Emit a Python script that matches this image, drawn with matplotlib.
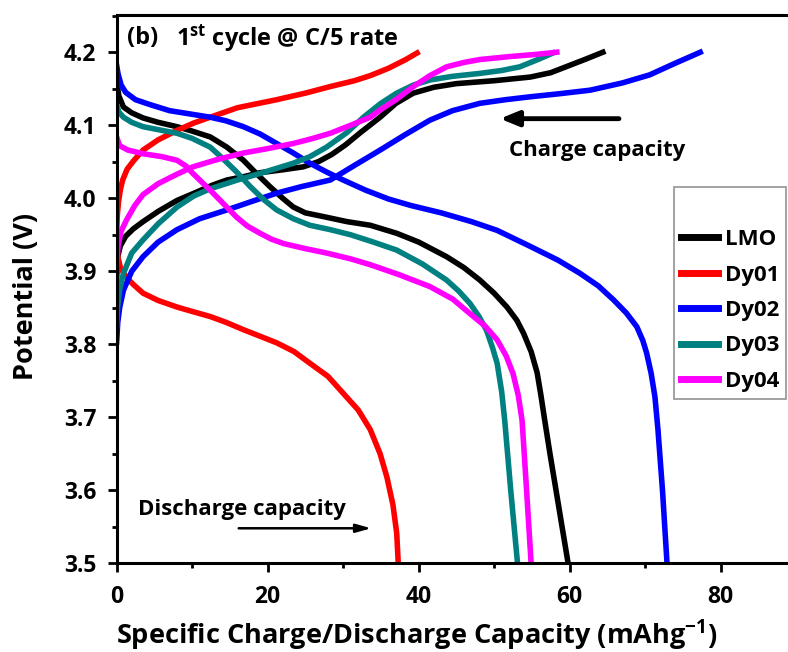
import matplotlib.pyplot as plt
from matplotlib.ticker import MultipleLocator

plt.rcParams['font.family'] = ['Open Sans', 'DejaVu Sans']
plt.rcParams['font.weight'] = 'bold'
plt.rcParams['mathtext.fontset'] = 'custom'
plt.rcParams['mathtext.rm'] = 'Open Sans:bold'
plt.rcParams['mathtext.it'] = 'Open Sans:bold'
plt.rcParams['mathtext.bf'] = 'Open Sans:bold'

labels = ['LMO', 'Dy01', 'Dy02', 'Dy03', 'Dy04']
colors = ['black', '#ff0000', '#0000ff', '#008080', '#ff00ff']

# charge branches (capacity in mAh/g, potential in V)
lmo_chg_x = [0, 0.15, 0.5, 1.2, 2.2, 3.5, 5.5, 8, 10.5, 12.7, 14.6, 17, 19, 22, 24.7, 26.7, 28.5, 30.3, 32.3, 34.9,
             37, 39.3, 42, 45, 50, 54.8, 57.5, 59.5, 62, 64.4]
lmo_chg_y = [3.89, 3.92, 3.935, 3.948, 3.958, 3.968, 3.982, 3.997, 4.008, 4.018, 4.025, 4.03, 4.035, 4.039, 4.043,
             4.05, 4.06, 4.073, 4.09, 4.111, 4.13, 4.144, 4.152, 4.157, 4.161, 4.166, 4.172, 4.18, 4.19, 4.2]
dy1_chg_x = [0, 0.08, 0.25, 0.5, 0.8, 1.4, 2.3, 3.5, 5.5, 8, 10.2, 12.4, 16, 21.2, 25, 28.3, 31.5, 33.6, 36, 38.3, 39.8]
dy1_chg_y = [3.95, 3.975, 3.995, 4.012, 4.025, 4.04, 4.052, 4.066, 4.08, 4.093, 4.103, 4.111, 4.124, 4.135, 4.144,
             4.153, 4.161, 4.168, 4.178, 4.19, 4.199]
dy2_chg_x = [0, 0.15, 0.4, 0.9, 2, 3.5, 5.5, 8, 11, 14.6, 18, 21.2, 24.5, 28.3, 31.5, 34.9, 38.2, 41.5, 44.5, 48.1,
             51.5, 54.8, 58.5, 62.7, 67, 70.6, 74, 77.3]
dy2_chg_y = [3.803, 3.83, 3.85, 3.874, 3.9, 3.92, 3.94, 3.957, 3.972, 3.984, 3.996, 4.007, 4.016, 4.025, 4.045, 4.066,
             4.087, 4.107, 4.12, 4.13, 4.135, 4.139, 4.143, 4.148, 4.158, 4.169, 4.185, 4.2]
dy3_chg_x = [0, 0.12, 0.4, 0.9, 2, 3.5, 5.5, 8, 10.2, 12.4, 16, 19, 21.2, 23.4, 25.6, 27.8, 30.5, 32.7, 35, 37.1,
             39.3, 41.5, 44.5, 48.1, 51, 53.4, 55.8, 57.8]
dy3_chg_y = [3.826, 3.85, 3.875, 3.897, 3.925, 3.943, 3.965, 3.988, 4.003, 4.013, 4.025, 4.034, 4.041, 4.048, 4.057,
             4.07, 4.09, 4.111, 4.13, 4.144, 4.155, 4.162, 4.167, 4.171, 4.175, 4.18, 4.19, 4.199]
dy4_chg_x = [0, 0.2, 0.6, 1.3, 2.4, 3.5, 5.5, 8, 10.1, 13.3, 16.8, 20, 23.4, 26, 28.3, 31, 33.6, 34.9, 37, 39.3,
             41.5, 43.7, 46, 48.1, 52, 55.5, 58.3]
dy4_chg_y = [3.911, 3.935, 3.955, 3.97, 3.99, 4.005, 4.02, 4.033, 4.043, 4.053, 4.062, 4.068, 4.075, 4.082, 4.089,
             4.1, 4.111, 4.121, 4.135, 4.153, 4.168, 4.18, 4.186, 4.19, 4.194, 4.197, 4.2]

# discharge branches
lmo_dis_x = [0, 0.3, 0.9, 2, 3.5, 5.5, 8, 10, 12.4, 14.6, 16.8, 18.5, 20.3, 22, 23.4, 25, 27.8, 30.5, 33.6, 37.1,
             40, 43.7, 46, 48.1, 50, 51.7, 53, 53.9, 54.9, 55.7, 56.2, 56.7, 57.4, 58.2, 59, 59.8]
lmo_dis_y = [4.16, 4.14, 4.125, 4.117, 4.11, 4.104, 4.098, 4.092, 4.084, 4.07, 4.052, 4.034, 4.016, 4.0, 3.988, 3.98,
             3.974, 3.968, 3.963, 3.952, 3.94, 3.92, 3.905, 3.888, 3.87, 3.851, 3.833, 3.815, 3.79, 3.761, 3.73,
             3.696, 3.65, 3.6, 3.55, 3.5]
dy1_dis_x = [0, 0.15, 0.5, 1.2, 2.2, 3.5, 5.5, 8, 10, 12.4, 14.5, 16.8, 19, 21.2, 23.5, 25.6, 28, 30, 32, 33.6,
             34.9, 35.8, 36.6, 37.1, 37.3]
dy1_dis_y = [3.95, 3.92, 3.905, 3.893, 3.882, 3.87, 3.86, 3.851, 3.845, 3.838, 3.83, 3.82, 3.811, 3.802, 3.79, 3.774,
             3.756, 3.733, 3.71, 3.683, 3.65, 3.618, 3.58, 3.541, 3.5]
dy2_dis_x = [0, 0.2, 0.6, 1.2, 2.5, 4.5, 7, 10, 12.4, 14.5, 16.8, 19, 21.2, 23.4, 25.6, 27.8, 30, 33, 36, 39, 43,
             47, 50.4, 54.8, 58.5, 61.4, 63.8, 65.8, 67.5, 68.9, 69.7, 70.2, 70.8, 71.3, 71.7, 72.3, 72.9]
dy2_dis_y = [4.182, 4.17, 4.155, 4.145, 4.135, 4.128, 4.12, 4.115, 4.111, 4.106, 4.098, 4.088, 4.075, 4.062, 4.048,
             4.036, 4.025, 4.011, 3.999, 3.99, 3.98, 3.968, 3.956, 3.934, 3.915, 3.897, 3.88, 3.861, 3.843, 3.824,
             3.805, 3.788, 3.76, 3.728, 3.683, 3.6, 3.5]
dy3_dis_x = [0, 0.3, 0.9, 2, 3.5, 6, 8, 10, 12.4, 14, 15.8, 17.7, 19.5, 21.2, 23.4, 25.6, 28.3, 31, 34, 37.1, 40.5,
             43.7, 45.3, 46.8, 48, 49, 49.8, 50.4, 51, 51.4, 52.2, 53.1]
dy3_dis_y = [4.128, 4.118, 4.111, 4.104, 4.098, 4.093, 4.089, 4.082, 4.07, 4.055, 4.037, 4.016, 3.998, 3.984, 3.972,
             3.963, 3.957, 3.95, 3.94, 3.929, 3.91, 3.888, 3.873, 3.856, 3.838, 3.819, 3.795, 3.774, 3.735, 3.696,
             3.6, 3.5]
dy4_dis_x = [0, 0.4, 1.5, 3.5, 6, 8, 9.2, 10.1, 12.4, 14.2, 15.9, 17.3, 19, 20.5, 22.1, 25, 27.8, 31, 33.6, 37.5,
             41.5, 44.5, 46.8, 48.8, 50.4, 51.6, 52.5, 53.2, 53.7, 54.3, 54.9]
dy4_dis_y = [4.084, 4.072, 4.066, 4.061, 4.057, 4.052, 4.044, 4.034, 4.011, 3.992, 3.974, 3.962, 3.952, 3.944, 3.938,
             3.931, 3.925, 3.917, 3.909, 3.895, 3.879, 3.862, 3.842, 3.825, 3.806, 3.784, 3.76, 3.73, 3.696, 3.6, 3.5]

charge = [(lmo_chg_x, lmo_chg_y), (dy1_chg_x, dy1_chg_y), (dy2_chg_x, dy2_chg_y),
          (dy3_chg_x, dy3_chg_y), (dy4_chg_x, dy4_chg_y)]
discharge = [(lmo_dis_x, lmo_dis_y), (dy1_dis_x, dy1_dis_y), (dy2_dis_x, dy2_dis_y),
             (dy3_dis_x, dy3_dis_y), (dy4_dis_x, dy4_dis_y)]

fig = plt.figure(figsize=(7.88, 6.52), dpi=100)
ax = fig.add_axes([0.148, 0.136, 0.8604, 0.841])

for (cx, cy), (dx, dy), c, lab in zip(charge, discharge, colors, labels):
    ax.plot(cx, cy, color=c, lw=4, label=lab, solid_joinstyle='round')
    ax.plot(dx, dy, color=c, lw=4, solid_joinstyle='round')

ax.set_xlim(0, 89.8)
ax.set_ylim(3.5, 4.251)
ax.xaxis.set_major_locator(MultipleLocator(20))
ax.xaxis.set_minor_locator(MultipleLocator(10))
ax.yaxis.set_major_locator(MultipleLocator(0.1))
ax.yaxis.set_minor_locator(MultipleLocator(0.05))
ax.yaxis.set_major_formatter(plt.FormatStrFormatter('%.1f'))
ax.tick_params(which='major', direction='out', length=6.5, width=2, labelsize=16.5)
ax.tick_params(axis='x', which='major', pad=9)
ax.tick_params(axis='y', which='major', pad=8)
ax.tick_params(which='minor', direction='out', length=3.6, width=2)
for s in ax.spines.values():
    s.set_linewidth(2.2)

ax.set_xlabel(r'Specific Charge/Discharge Capacity (mAhg$^{\mathbf{-1}}$)', fontsize=19.5, fontweight='bold')
ax.xaxis.set_label_coords(0.443, -0.1)
ax.set_ylabel('Potential (V)', fontsize=19.5, fontweight='bold')
ax.yaxis.set_label_coords(-0.115, 0.4875)

ax.text(1.4, 4.219, '(b)', fontsize=17, va='center', ha='left')
ax.text(7.9, 4.219, r'$1^{st}$ cycle @ C/5 rate', fontsize=17, va='center', ha='left')

ax.annotate('', xy=(50.4, 4.109), xytext=(66.9, 4.109),
            arrowprops=dict(arrowstyle='-|>,head_length=1.1,head_width=0.45', lw=3.5, color='black'))
ax.text(63.7, 4.066, 'Charge capacity', fontsize=16, ha='center', va='center')

ax.annotate('', xy=(34.1, 3.548), xytext=(15.8, 3.548),
            arrowprops=dict(arrowstyle='-|>,head_length=0.9,head_width=0.25', lw=1.8, color='black'))
ax.text(16.6, 3.574, 'Discharge capacity', fontsize=16, ha='center', va='center')

leg = ax.legend(loc='upper left', bbox_to_anchor=(674 / 788, 1 - 187 / 652),
                bbox_transform=fig.transFigure, borderaxespad=0, fontsize=16,
                title=' ', title_fontsize=15, fancybox=False, edgecolor='#777777',
                handlelength=1.7, handletextpad=0.3, labelspacing=0.65, borderpad=0.3)
leg.get_frame().set_linewidth(1.2)
for h in leg.get_lines():
    h.set_linewidth(5)

fig.savefig('out.png', dpi=100)
